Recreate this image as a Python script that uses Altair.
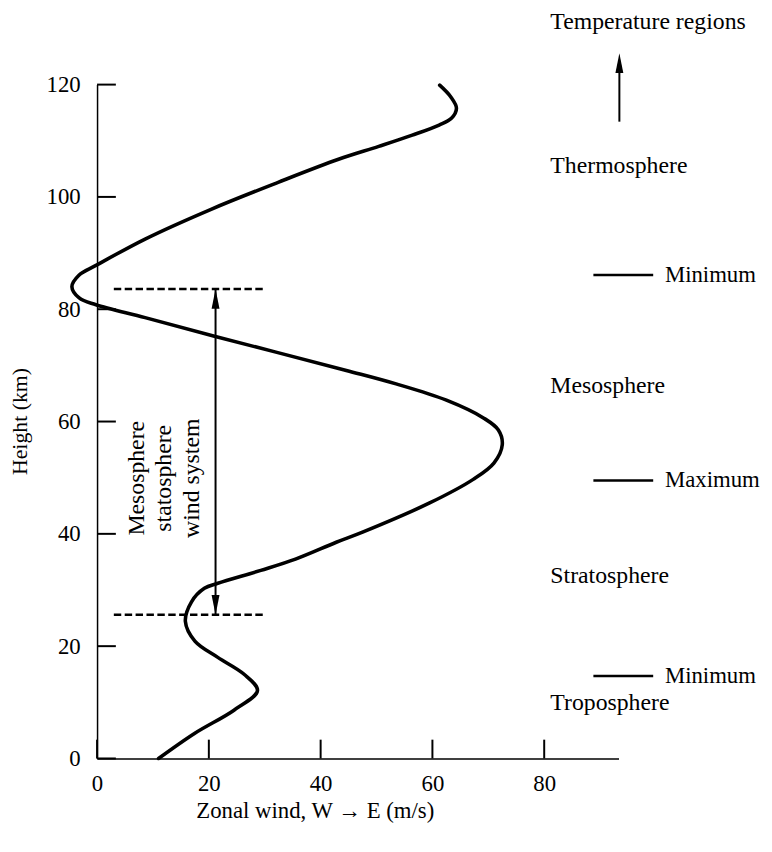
import altair as alt
import pandas as pd

# ---- data ----
height_km = [0, 4.5, 8.6, 12.1, 15.0, 18.0, 20.9, 24.4, 27.9, 30.3, 31.2, 33.5, 35.5, 38.5, 40.3,
             45.5, 49.7, 52.6, 55.9, 58.5, 60.6, 63.8, 66.7, 69.1, 75.2, 78.5, 80.8, 82.0, 84.0,
             86.1, 87.8, 92.5, 97.8, 102.6, 106.7, 109.0, 111.0, 112.8, 114.0, 115.8, 117.8, 119.9]
wind_ms = [11.0, 17.5, 24.5, 28.7, 26.3, 21.6, 17.5, 15.8, 16.9, 19.2, 21.6, 29.3, 35.5, 42.8, 47.5,
           59.5, 67.3, 71.0, 72.5, 71.8, 69.2, 62.5, 53.5, 44.6, 21.0, 8.6, -0.2, -3.2, -4.5,
           -3.2, -0.2, 8.6, 20.4, 32.4, 43.2, 50.4, 56.4, 61.2, 63.4, 64.3, 63.3, 61.3]

x_ticks = [0, 20, 40, 60, 80]
y_ticks = [0, 20, 40, 60, 80, 100, 120]

# wind-system bounds (dashed lines) and arrow
system_bounds = [83.6, 25.6]
system_x_range = [3.0, 29.9]
system_arrow_x = 21.2
system_label = "Mesosphere\nstatosphere\nwind system"
system_label_pos = [7.1, 49.9]

# temperature regions
region_labels = ["Temperature regions", "Thermosphere", "Mesosphere", "Stratosphere", "Troposphere"]
region_heights = [129.9, 104.2, 65.0, 31.2, 8.6]
region_x = 81.1
extreme_labels = ["Minimum", "Maximum", "Minimum"]
extreme_heights = [86.1, 49.5, 14.7]
extreme_line_x = [88.8, 99.5]
extreme_text_x = 101.6
temp_arrow_x = 93.45
temp_arrow_y = [113.4, 125.6]

FONT = "Liberation Serif"
W, H = 527, 681

xscale = alt.Scale(domain=[0, 93.3], nice=False, zero=False)
yscale = alt.Scale(domain=[0, 120], nice=False, zero=False)

xaxis = alt.Axis(
    values=x_ticks, title="Zonal wind, W \u2192 E (m/s)", grid=False, ticks=False, tickSize=0,
    labelPadding=14, labelFlush=False, labelFont=FONT, labelFontSize=23, labelColor="black",
    titleFont=FONT, titleFontSize=23, titleFontWeight="normal", titleColor="black",
    titleX=220, titleY=53, titleBaseline="middle", titleAlign="center", titleAnchor="start",
    domainColor="black", domainWidth=1.5)
yaxis = alt.Axis(
    values=y_ticks, title="Height (km)", grid=False, ticks=False, tickSize=0,
    labelPadding=17, labelFont=FONT, labelFontSize=23, labelColor="black",
    titleFont=FONT, titleFontSize=22, titleFontWeight="normal", titleColor="black",
    titleX=-78, titleY=340, titleAngle=270, titleBaseline="middle", titleAlign="center",
    domainColor="black", domainWidth=1.5)


def X(field="wind"):
    return alt.X(f"{field}:Q", scale=xscale, axis=xaxis)


def Y(field="height"):
    return alt.Y(f"{field}:Q", scale=yscale, axis=yaxis)


curve_df = pd.DataFrame({"wind": wind_ms, "height": height_km, "i": list(range(len(wind_ms)))})
curve = alt.Chart(curve_df).mark_line(
    color="black", strokeWidth=3.6, interpolate="catmull-rom", strokeCap="round"
).encode(x=X(), y=Y(), order="i:Q")

ytick_df = pd.DataFrame({"height": y_ticks})
ytick_rules = alt.Chart(ytick_df).mark_rule(color="black", strokeWidth=2).encode(
    x=alt.value(0), x2=alt.value(19), y=Y(),
)
xtick_df = pd.DataFrame({"wind": x_ticks})
xtick_rules = alt.Chart(xtick_df).mark_rule(color="black", strokeWidth=2).encode(
    x=X(), y=alt.value(H), y2=alt.value(H - 19),
)

dash_df = pd.DataFrame({"wind": [system_x_range[0]] * 2, "wind2": [system_x_range[1]] * 2,
                        "height": system_bounds})
dashes = alt.Chart(dash_df).mark_rule(color="black", strokeWidth=2.5, strokeDash=[7.5, 3.5]).encode(
    x=X(), x2="wind2:Q", y=Y(),
)

shaft_df = pd.DataFrame({"wind": [system_arrow_x, temp_arrow_x],
                         "height": [system_bounds[1], temp_arrow_y[0]],
                         "height2": [system_bounds[0], temp_arrow_y[1] - 2]})
shafts = alt.Chart(shaft_df).mark_rule(color="black", strokeWidth=2).encode(
    x=X(), y=Y(), y2="height2:Q",
)

up_df = pd.DataFrame({"wind": [system_arrow_x, temp_arrow_x], "height": [system_bounds[0], temp_arrow_y[1]]})
up_heads = alt.Chart(up_df).mark_point(
    shape="M0,-1L0.4,1L-0.4,1Z", filled=True, size=400, color="black", opacity=1, yOffset=10, strokeWidth=0
).encode(x=X(), y=Y())
down_df = pd.DataFrame({"wind": [system_arrow_x], "height": [system_bounds[1]]})
down_heads = alt.Chart(down_df).mark_point(
    shape="M0,1L0.4,-1L-0.4,-1Z", filled=True, size=400, color="black", opacity=1, yOffset=-10, strokeWidth=0
).encode(x=X(), y=Y())

sys_df = pd.DataFrame({"wind": [system_label_pos[0]], "height": [system_label_pos[1]], "t": [system_label]})
sys_text = alt.Chart(sys_df).mark_text(
    font=FONT, fontSize=24, angle=270, align="center", baseline="middle", lineBreak="\n",
    lineHeight=28, color="black"
).encode(x=X(), y=Y(), text="t:N")

reg_df = pd.DataFrame({"wind": [region_x] * len(region_labels), "height": region_heights, "t": region_labels})
reg_text = alt.Chart(reg_df).mark_text(
    font=FONT, fontSize=24, align="left", baseline="alphabetic", color="black"
).encode(x=X(), y=Y(), text="t:N")

ext_line_df = pd.DataFrame({"wind": [extreme_line_x[0]] * 3, "wind2": [extreme_line_x[1]] * 3,
                            "height": extreme_heights})
ext_lines = alt.Chart(ext_line_df).mark_rule(color="black", strokeWidth=2.5).encode(
    x=X(), x2="wind2:Q", y=Y(),
)
ext_df = pd.DataFrame({"wind": [extreme_text_x] * 3, "height": extreme_heights, "t": extreme_labels})
ext_text = alt.Chart(ext_df).mark_text(
    font=FONT, fontSize=23, align="left", baseline="middle", color="black"
).encode(x=X(), y=Y(), text="t:N")

chart = alt.layer(
    curve, ytick_rules, xtick_rules, dashes, shafts, up_heads, down_heads,
    sys_text, reg_text, ext_lines, ext_text
).properties(
    width=W, height=H,
    autosize=alt.AutoSizeParams(type="none"),
    padding={"left": 90, "top": 73, "right": 147, "bottom": 80},
    background="white",
).configure_view(stroke=None)

chart.save("out.html", embed_options={"renderer": "svg", "actions": False})
